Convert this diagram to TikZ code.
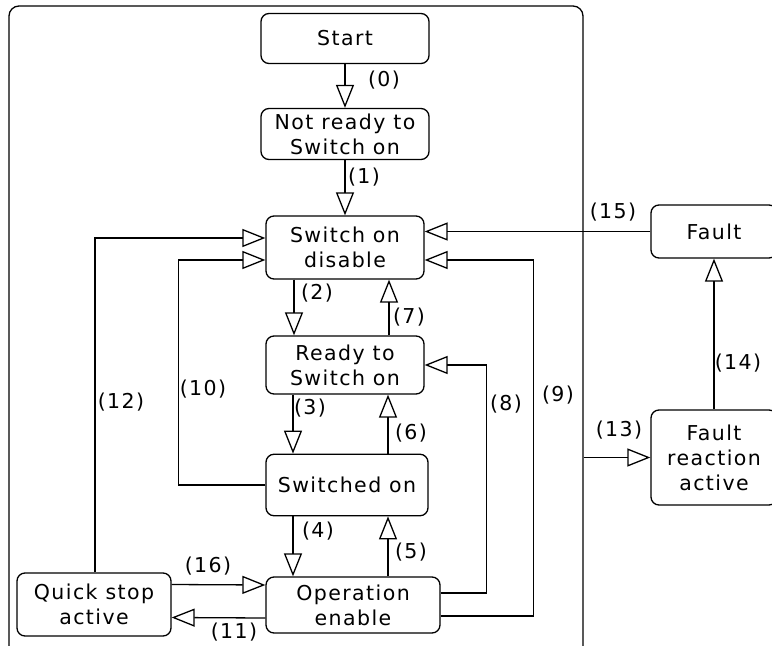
\documentclass[tikz,border=0pt]{standalone}
\usepackage{fontspec}
\setmainfont{DejaVu Sans}[LetterSpace=7]
\usetikzlibrary{arrows.meta}
\begin{document}
\begin{tikzpicture}[x=1pt,y=-1pt,
 state/.style={draw, rounded corners=8pt, line width=1.3pt, align=center, font=\fontsize{20.5}{25}\selectfont, inner sep=0pt},
 lbl/.style={font=\fontsize{20.5}{25}\selectfont, inner sep=0pt},
 arr/.style={line width=1.3pt, -{Triangle[open, length=23pt, width=18pt]}}]
\useasboundingbox (0,0) rectangle (772,646);
\clip (0,0) rectangle (772,646);
% outer frame
\node[draw, rounded corners=10pt, line width=1.3pt, minimum width=574pt, minimum height=654pt, inner sep=0pt] (frame) at (296,333) {};
% states
\node[state, minimum width=168pt, minimum height=50pt] (start) at (345,38.5) {Start};
\node[state, minimum width=168pt, minimum height=51pt] (notready) at (345,134) {Not ready to\\Switch on};
\node[state, minimum width=158pt, minimum height=63pt] (sod) at (345,247.5) {Switch on\\disable};
\node[state, minimum width=158pt, minimum height=58pt] (ready) at (345,365) {Ready to\\Switch on};
\node[state, minimum width=162pt, minimum height=61.5pt] (swon) at (347,485) {Switched on};
\node[state, minimum width=174pt, minimum height=56pt] (opena) at (353,605) {Operation\\enable};
\node[state, minimum width=154pt, minimum height=63pt] (quick) at (94,604.5) {Quick stop\\active};
\node[state, minimum width=126pt, minimum height=53pt] (fault) at (714,231.5) {Fault};
\node[state, minimum width=126pt, minimum height=95pt] (fra) at (714,457.5) {Fault\\reaction\\active};
% transitions
\draw[arr] (start) -- (notready);
\draw[arr] (notready) -- (sod);
\draw[arr] ([xshift=-51pt]sod.south) -- ([xshift=-51pt]ready.north);
\draw[arr] ([xshift=44pt]ready.north) -- ([xshift=44pt]sod.south);
\draw[arr] ([xshift=-52pt]ready.south) -- ([xshift=-54pt]swon.north);
\draw[arr] ([xshift=41pt]swon.north) -- ([xshift=43pt]ready.south);
\draw[arr] ([xshift=-54pt]swon.south) -- ([xshift=-60pt]opena.north);
\draw[arr] ([xshift=35pt]opena.north) -- ([xshift=41pt]swon.south);
\draw[arr] ([yshift=20pt]quick.east) -- ([yshift=20pt]opena.west);
\draw[arr] ([yshift=-13pt]opena.west) -- ([yshift=-13pt]quick.east);
\draw[arr] ([xshift=1pt]quick.north) |- ([yshift=9.5pt]sod.west);
\draw[arr] (swon.west) -- ++(-87,0) |- ([yshift=-12.5pt]sod.west);
\draw[arr] ([yshift=12pt]opena.east) -- ++(46,0) |- (ready.east);
\draw[arr] ([yshift=-11pt]opena.east) -- ++(93,0) |- ([yshift=-12.5pt]sod.east);
\draw[arr] (fault.west) -- (fault.west -| sod.east);
\draw[arr] (fra.west -| frame.east) -- (fra.west);
\draw[arr] (fra.north) -- (fault.south);
% labels
\node[lbl] (l0) at (384,80) {(0)};
\node[lbl] (l1) at (364,177) {(1)};
\node[lbl] (l2) at (317,293) {(2)};
\node[lbl] (l7) at (409,317) {(7)};
\node[lbl] (l3) at (310,408) {(3)};
\node[lbl] (l6) at (411,433) {(6)};
\node[lbl] (l4) at (318,531) {(4)};
\node[lbl] (l5) at (411,552) {(5)};
\node[lbl] (l16) at (208,566) {(16)};
\node[lbl] (l11) at (234,632) {(11)};
\node[lbl] (l12) at (121,402) {(12)};
\node[lbl] (l10) at (203,389) {(10)};
\node[lbl] (l8) at (506,404) {(8)};
\node[lbl] (l9) at (558,395) {(9)};
\node[lbl] (l15) at (613,212) {(15)};
\node[lbl] (l13) at (619,430) {(13)};
\node[lbl] (l14) at (738,363) {(14)};
\end{tikzpicture}
\end{document}
